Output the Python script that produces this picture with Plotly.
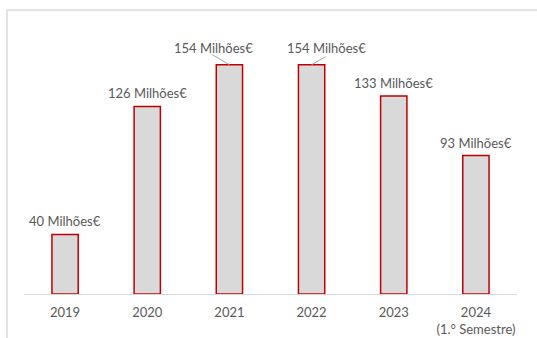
import plotly.graph_objects as go

categories = ["2019", "2020", "2021", "2022", "2023", "2024"]
tick_labels = ["2019", "2020", "2021", "2022", "2023", "2024<br>(1.° Semestre)"]
values = [40, 126, 154, 154, 133, 93]
label_texts = ["40 Milhões€", "126 Milhões€", "154 Milhões€", "154 Milhões€", "133 Milhões€", "93 Milhões€"]

fig = go.Figure()
fig.add_trace(go.Bar(
    x=categories, y=values,
    marker=dict(color="#d9d9d9", line=dict(color="#c00000", width=1.5)),
    width=0.32,
    hoverinfo="skip",
))

font = dict(family="Lato", size=13, color="#595959")
# labels moved aside with leader lines (pixel offsets: text shift, leader start)
moved = {2: dict(xs=-16, ys=17, ax=-17, ay=10), 3: dict(xs=15, ys=17, ax=14, ay=8)}
for i, (v, t) in enumerate(zip(values, label_texts)):
    if i in moved:
        m = moved[i]
        fig.add_annotation(x=i, y=v, text=t, showarrow=False, yanchor="middle",
                           xshift=m["xs"], yshift=m["ys"], font=font)
        fig.add_shape(type="line", xref="x", yref="y",
                      xsizemode="pixel", ysizemode="pixel",
                      xanchor=i, yanchor=v,
                      x0=m["ax"], y0=m["ay"], x1=0, y1=0,
                      line=dict(color="#a6a6a6", width=1))
    else:
        fig.add_annotation(x=i, y=v, text=t, showarrow=False, yanchor="bottom",
                           yshift=3, font=font)

L, R, T, B = 24, 20, 26, 44
W, H = 537, 338
pw, ph = W - L - R, H - T - B
x0 = (7 - L) / pw
y1 = (H - B - 10) / ph
fig.add_shape(type="line", xref="paper", yref="paper", x0=x0, x1=x0, y0=-0.5, y1=y1,
              line=dict(color="#d9d9d9", width=1.5))
fig.add_shape(type="line", xref="paper", yref="paper", x0=x0, x1=1.2, y0=y1, y1=y1,
              line=dict(color="#d9d9d9", width=1.5))

fig.update_layout(
    width=W, height=H,
    margin=dict(l=L, r=R, t=T, b=B, autoexpand=False),
    paper_bgcolor="white", plot_bgcolor="white",
    showlegend=False,
    xaxis=dict(type="category", range=[-0.5, 5.5],
               showline=True, linecolor="#d9d9d9", linewidth=1,
               ticks="", showgrid=False, tickangle=0, ticklabelstandoff=6,
               tickmode="array", tickvals=categories, ticktext=tick_labels,
               tickfont=dict(family="Lato", size=13, color="#595959")),
    yaxis=dict(range=[0, 180], visible=False, showgrid=False, zeroline=False),
)

fig.write_html("out.html", post_script="document.body.style.margin='0';",
               config={"displayModeBar": False})
